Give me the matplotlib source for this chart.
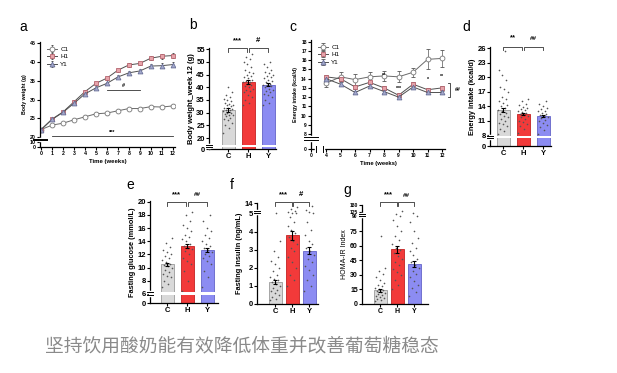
import numpy as np
import matplotlib.pyplot as plt

plt.rcParams['font.family'] = ['Liberation Sans', 'DejaVu Sans']

# ---------- data ----------
groups = ['C', 'H', 'Y']
series_names = ['C1', 'H1', 'Y1']

weeks_a = np.arange(13)
bw_C1 = [22.0, 23.2, 23.7, 24.6, 25.4, 26.2, 26.4, 27.0, 27.6, 27.6, 28.1, 28.0, 28.3]
bw_H1 = [22.0, 24.8, 26.7, 29.4, 32.1, 34.3, 35.7, 37.8, 39.2, 39.6, 41.0, 41.5, 41.7]
bw_Y1 = [22.0, 24.7, 26.6, 29.0, 31.5, 33.1, 34.3, 36.0, 37.1, 37.6, 38.9, 39.0, 39.3]
bw_err = [0.5, 0.3, 0.3, 0.4, 0.4, 0.4, 0.4, 0.4, 0.5, 0.5, 0.5, 0.6, 0.6]

weeks_c = np.arange(4, 13)
ei_C1 = [13.5, 14.2, 13.9, 14.2, 14.3, 14.2, 14.7, 16.1, 16.2]
ei_H1 = [14.2, 14.0, 13.1, 13.6, 13.0, 12.2, 13.4, 12.8, 13.0]
ei_Y1 = [14.0, 13.4, 12.5, 13.2, 12.6, 12.0, 13.1, 12.5, 12.5]
ei_C1_err = [0.4, 0.5, 0.6, 0.5, 0.5, 0.6, 0.5, 1.1, 0.9]
ei_err = [0.2, 0.2, 0.2, 0.2, 0.2, 0.2, 0.2, 0.2, 0.2]
ei_stars = ['', '', '', '', '**', '***', '', '*', '**']
ei_star_y = [0, 0, 0, 0, 14.4, 12.9, 0, 13.9, 14.2]

b_means = [31.0, 42.0, 41.0]
b_sems = [0.7, 0.7, 0.6]
b_pts = [
    [22, 24, 25, 26, 27, 27.5, 28, 28.5, 29, 29, 29.5, 30, 30, 30.5, 31, 31, 31.5, 32, 32, 32.5, 33, 33,
     33.5, 34, 34.5, 35, 35.5, 36, 37, 38, 40],
    [33, 34, 35, 36, 37, 38, 38.5, 39, 39.5, 40, 40.5, 41, 41.5, 42, 42, 42.5, 43, 43.5, 44, 44.5, 45,
     45.5, 46, 47, 48, 49, 50, 51, 52, 53],
    [33, 34, 35, 36, 37, 37.5, 38, 38.5, 39, 39.5, 40, 40.5, 41, 41, 41.5, 42, 42.5, 43, 43.5, 44, 44.5,
     45, 45.5, 46, 47, 48, 49, 50],
]

d_means = [13.2, 12.4, 12.0]
d_sems = [0.4, 0.25, 0.25]
d_pts = [
    [8.2, 8.8, 9.3, 9.8, 10.2, 10.6, 11, 11.3, 11.7, 12, 12.3, 12.6, 13, 13.3, 13.6, 14, 14.3, 14.6, 15,
     15.5, 16, 17, 17.5, 18, 19.5, 20.5, 21.5, 25.5],
    [8.5, 9.2, 9.8, 10.3, 10.7, 11, 11.4, 11.7, 12, 12.2, 12.4, 12.6, 12.8, 13, 13.2, 13.4, 13.6, 13.9,
     14.2, 14.5, 15, 15.5],
    [8.3, 9, 9.6, 10, 10.5, 10.9, 11.2, 11.5, 11.8, 12, 12.2, 12.4, 12.6, 12.9, 13.1, 13.4, 13.7, 14,
     14.4, 15],
]

e_means = [10.5, 13.3, 12.6]
e_sems = [0.25, 0.3, 0.3]
e_pts = [
    [7, 7.5, 8, 8.5, 8.8, 9, 9.3, 9.6, 9.9, 10.2, 10.4, 10.6, 10.9, 11.2, 11.5, 11.8, 12, 12.3, 12.7,
     13.2, 13.8, 14.5],
    [6.5, 8, 9.5, 10.5, 11, 11.5, 12, 12.5, 12.8, 13, 13.3, 13.6, 14, 14.3, 14.6, 15, 15.5, 16, 16.5,
     17, 18, 18.5],
    [7, 8.5, 9.5, 10.5, 11, 11.5, 11.8, 12.1, 12.4, 12.7, 13, 13.3, 13.6, 14, 14.5, 15, 15.5, 16, 17, 18],
]

f_means = [1.2, 3.8, 2.95]
f_sems = [0.12, 0.25, 0.2]
f_pts = [
    [0.2, 0.3, 0.4, 0.5, 0.6, 0.7, 0.8, 0.9, 1.0, 1.1, 1.2, 1.3, 1.4, 1.5, 1.6, 1.8, 2.0, 2.2, 2.4, 2.6,
     2.9, 3.5, 5.2],
    [1, 1.3, 1.6, 2, 2.3, 2.6, 2.9, 3.1, 3.3, 3.5, 3.7, 3.9, 4.1, 4.3, 4.5, 4.8, 5.2, 5.6, 6.5, 7.5, 9, 11],
    [0.7, 1, 1.3, 1.6, 1.9, 2.1, 2.3, 2.5, 2.7, 2.9, 3.1, 3.3, 3.5, 3.8, 4.1, 4.5, 5.3, 6, 8, 12],
]

g_means = [14.0, 56.0, 41.5]
g_sems = [1.5, 4.0, 3.0]
g_pts = [
    [3, 4, 5, 6, 7, 8, 9, 10, 11, 12, 13, 14, 15, 16, 18, 20, 22, 25, 28, 31, 34, 37, 70],
    [15, 20, 25, 30, 33, 36, 40, 43, 46, 49, 52, 55, 58, 62, 66, 70, 75, 80, 86, 95, 110, 130],
    [8, 12, 16, 20, 24, 28, 31, 34, 37, 40, 43, 46, 50, 54, 58, 63, 68, 75, 84, 95, 115],
]

caption = '坚持饮用酸奶能有效降低体重并改善葡萄糖稳态'

# ---------- helpers ----------
W, H = 617, 373
fig = plt.figure(figsize=(W / 100, H / 100), dpi=100)


def box(x0, y0, x1, y1):
    return fig.add_axes([x0 / W, 1 - y1 / H, (x1 - x0) / W, (y1 - y0) / H])


def squash_low(edge, k):
    def fwd(v):
        v = np.asarray(v, float)
        return np.where(v <= edge, v * k, edge * k + (v - edge))

    def inv(u):
        u = np.asarray(u, float)
        return np.where(u <= edge * k, u / k, u - edge * k + edge)
    return fwd, inv


def squash_high(edge, k):
    def fwd(v):
        v = np.asarray(v, float)
        return np.where(v <= edge, v, edge + (v - edge) * k)

    def inv(u):
        u = np.asarray(u, float)
        return np.where(u <= edge, u, edge + (u - edge) / k)
    return fwd, inv


def style(ax, size):
    for s in ['top', 'right']:
        ax.spines[s].set_visible(False)
    for s in ['left', 'bottom']:
        ax.spines[s].set_linewidth(0.9)
    ax.tick_params(labelsize=size, length=2, width=0.8, pad=1)
    for lbl in ax.get_xticklabels() + ax.get_yticklabels():
        lbl.set_fontweight('bold')


def ybreak(ax, y0, y1, bars=False):
    tr = ax.get_yaxis_transform()
    ax.plot([0, 0], [y0, y1], color='white', lw=2.5, transform=tr, clip_on=False, zorder=10)
    for yy in (y0, y1):
        ax.plot([-0.05, 0.05], [yy, yy], color='black', lw=0.7, transform=tr, clip_on=False, zorder=11)
    if bars:
        ax.axhspan(y0, y1, xmin=0.03, xmax=1, color='white', lw=0, zorder=5)


def bracket(ax, x1, x2, y, h, text, ty, size=5.5):
    tr = ax.get_xaxis_transform()
    ax.plot([x1, x1, x2, x2], [y - h, y, y, y - h], color='#333333', lw=0.6,
            transform=tr, clip_on=False)
    ax.text((x1 + x2) / 2, ty, text, transform=tr, ha='center', va='center',
            fontsize=size, fontweight='bold', clip_on=False)


bar_face = ['#d9d9d9', '#f23a3a', '#8c8cf2']
bar_edge = ['#9a9a9a', '#c42222', '#6464c8']


def bar_panel(ax, means, sems, pts, width):
    for i in range(3):
        ax.bar(i, means[i], width=width, color=bar_face[i], edgecolor=bar_edge[i], lw=0.6, zorder=1)
        n = len(pts[i])
        off = ((np.arange(n) * 0.618) % 1 - 0.5) * width * 0.8
        ax.scatter(i + off, pts[i], s=1.4, c='#555555', lw=0, zorder=3)
        ax.errorbar(i, means[i], yerr=sems[i], color='black', capsize=1.5, lw=0.8,
                    capthick=0.8, zorder=4)
    ax.set_xticks(range(3))
    ax.set_xticklabels(groups)


ts_style = {
    'C1': dict(marker='o', mfc='white', mec='#777777', color='#6a6a6a'),
    'H1': dict(marker='s', mfc='#e6a3aa', mec='#b5656f', color='#505050'),
    'Y1': dict(marker='^', mfc='#a3a8cc', mec='#6b7199', color='#505050'),
}

# ---------- panel a ----------
ax = box(40, 42, 175, 147)
ax.set_yscale('function', functions=squash_low(20, 0.1316))
for name, y in zip(series_names, [bw_C1, bw_H1, bw_Y1]):
    ax.errorbar(weeks_a, y, yerr=bw_err, ms=3.5, lw=0.7, mew=0.6, elinewidth=0.5, capsize=0.8,
                ecolor='#444444', label=name, **ts_style[name])
ax.set_xlim(-0.1, 12.2)
ax.set_ylim(0, 45.3)
ax.set_xticks(range(13))
ax.set_yticks([0, 10, 20, 25, 30, 35, 40, 45])
ax.plot([6, 9], [32.6, 32.6], color='#333333', lw=0.6)
ax.text(7.5, 33.8, '#', ha='center', va='center', fontsize=4, fontweight='bold')
ax.plot([1, 12], [20.3, 20.3], color='#333333', lw=0.6)
ax.text(6.5, 21.2, '***', ha='center', va='center', fontsize=4, fontweight='bold')
ax.set_xlabel('Time (weeks)', fontsize=4.3, fontweight='bold', labelpad=2)
ax.set_ylabel('Body weight (g)', fontsize=3.8, fontweight='bold', labelpad=2)
ax.legend(loc='upper left', bbox_to_anchor=(0.02, 1.0), frameon=False, fontsize=4.5,
          handlelength=1.6, labelspacing=0.35, handletextpad=0.5, borderpad=0.2)
style(ax, 3.8)
ybreak(ax, 14, 17)

# ---------- panel b ----------
ax = box(209, 48, 276, 149)
ax.set_yscale('function', functions=squash_low(20, 0.2165))
bar_panel(ax, b_means, b_sems, b_pts, 0.65)
ax.set_xlim(-0.95, 2.4)
ax.set_ylim(0, 55.5)
ax.set_yticks([0, 20, 25, 30, 35, 40, 45, 50, 55])
ax.set_ylabel('Body weight_week 12 (g)', fontsize=5.5, fontweight='bold', labelpad=1)
style(ax, 5.5)
ybreak(ax, 3, 6.5, bars=True)
bracket(ax, 0, 0.97, 1.0, 0.04, '***', 1.075)
bracket(ax, 1.03, 2, 1.0, 0.04, '#', 1.075)

# ---------- panel c ----------
ax = box(311, 40, 445, 149)
ax.set_yscale('function', functions=squash_low(8, 0.2045))
ax.set_xscale('function', functions=squash_low(4, 0.259))
for name, y, e in zip(series_names, [ei_C1, ei_H1, ei_Y1], [ei_C1_err, ei_err, ei_err]):
    ax.errorbar(weeks_c, y, yerr=e, ms=3.5, lw=0.7, mew=0.6, elinewidth=0.5, capsize=1.2,
                ecolor='#555555', label=name, **ts_style[name])
for wk, s, yv in zip(weeks_c, ei_stars, ei_star_y):
    if s:
        ax.text(wk, yv, s, ha='center', va='center', fontsize=3.8, fontweight='bold')
ax.set_xlim(0, 12.2)
ax.set_ylim(0, 18.2)
ax.set_xticks([0] + list(weeks_c))
ax.set_yticks([0] + list(range(8, 19)))
ax.plot([12.4, 12.55, 12.55, 12.4], [13.56, 13.56, 12.03, 12.03], color='#333333', lw=0.6,
        clip_on=False)
ax.text(13.05, 12.8, '##', ha='center', va='center', fontsize=3.8, fontweight='bold')
ax.set_xlabel('Time (weeks)', fontsize=4.2, fontweight='bold', labelpad=2)
ax.set_ylabel('Energy intake (kcal/d)', fontsize=3.8, fontweight='bold', labelpad=2)
ax.legend(loc='upper left', bbox_to_anchor=(0.02, 1.0), frameon=False, fontsize=4.5,
          handlelength=1.6, labelspacing=0.35, handletextpad=0.5, borderpad=0.2)
style(ax, 3.6)
ybreak(ax, 4.8, 6.4)
tr = ax.get_xaxis_transform()
ax.plot([1.2, 3.3], [0, 0], color='white', lw=2.5, transform=tr, clip_on=False, zorder=10)
for xx in (1.2, 3.3):
    ax.plot([xx, xx], [-0.025, 0.025], color='black', lw=0.7, transform=tr, clip_on=False, zorder=11)

# ---------- panel d ----------
ax = box(490, 47, 551, 146)
ax.set_yscale('function', functions=squash_low(8, 0.2846))
bar_panel(ax, d_means, d_sems, d_pts, 0.65)
ax.set_xlim(-0.65, 2.4)
ax.set_ylim(0, 26.3)
ax.set_yticks([0, 8, 11, 14, 17, 20, 23, 26])
ax.set_ylabel('Energy intake (kcal/d)', fontsize=5.3, fontweight='bold', labelpad=1)
style(ax, 5.5)
ybreak(ax, 5.8, 7.6, bars=True)
bracket(ax, 0, 0.97, 1.0, 0.035, '**', 1.09)
bracket(ax, 1.03, 2, 1.0, 0.035, '##', 1.09, size=4.5)

# ---------- panel e ----------
ax = box(150, 201, 218, 303)
ax.set_yscale('function', functions=squash_low(6, 0.228))
bar_panel(ax, e_means, e_sems, e_pts, 0.65)
ax.set_xlim(-0.85, 2.55)
ax.set_ylim(0, 20.1)
ax.set_yticks([0, 6, 8, 10, 12, 14, 16, 18, 20])
ax.set_ylabel('Fasting glucose (mmol/L)', fontsize=5.3, fontweight='bold', labelpad=1)
style(ax, 5.5)
ybreak(ax, 5.3, 6.3, bars=True)
bracket(ax, 0, 0.97, 0.99, 0.04, '***', 1.06)
bracket(ax, 1.03, 2, 0.99, 0.04, '##', 1.06, size=4.5)

# ---------- panel f ----------
ax = box(257, 203, 318, 304)
ax.set_yscale('function', functions=squash_high(5, 0.062))
bar_panel(ax, f_means, f_sems, f_pts, 0.75)
ax.set_xlim(-1.06, 2.5)
ax.set_ylim(0, 14.3)
ax.set_yticks([0, 1, 2, 3, 4, 5, 14])
ax.set_ylabel('Fasting insulin (ng/mL)', fontsize=5.3, fontweight='bold', labelpad=1)
style(ax, 5.5)
ybreak(ax, 5.3, 7.0)
bracket(ax, 0, 0.97, 1.013, 0.04, '***', 1.08)
bracket(ax, 1.03, 2, 1.013, 0.04, '#', 1.08)

# ---------- panel g ----------
ax = box(362, 205, 428, 304)
ax.set_yscale('function', functions=squash_high(90, 0.1274))
bar_panel(ax, g_means, g_sems, g_pts, 0.75)
ax.set_xlim(-1.06, 2.8)
ax.set_ylim(0, 182)
ax.set_yticks([0, 15, 30, 45, 60, 75, 90, 125, 180])
ax.set_ylabel('HOMA-IR Index', fontsize=5, labelpad=1)
style(ax, 5)
for lbl in ax.get_yticklabels()[-3:]:
    lbl.set_fontsize(3.6)
ybreak(ax, 95, 110)
bracket(ax, 0, 0.97, 1.033, 0.04, '***', 1.10)
bracket(ax, 1.03, 2, 1.033, 0.04, '##', 1.10, size=4.5)

# ---------- labels ----------
for letter, (px, py) in zip('abcdefg', [(23, 27), (193, 25), (293, 27), (466, 27),
                                        (130, 185), (232, 185), (347, 190)]):
    fig.text(px / W, 1 - py / H, letter, fontsize=10, ha='center', va='center')

fig.text(45 / W, 1 - 346 / H, caption, fontsize=13.5, color='#8a8a8a', va='center',
         family=['Noto Sans CJK SC', 'DejaVu Sans'])

fig.savefig('out.png', dpi=100, facecolor='white')
